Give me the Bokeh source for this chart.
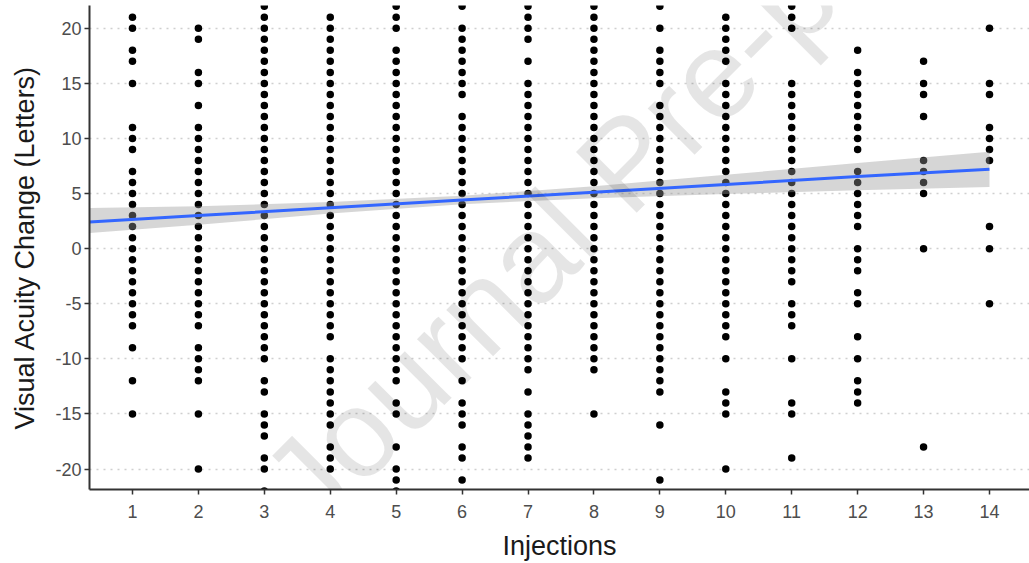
from bokeh.plotting import figure
from bokeh.models import Range1d, Label, FixedTicker
from bokeh.embed import file_html
from bokeh.resources import INLINE

# ---- data ----
injections = list(range(1, 15))

va_1 = [21, 20, 18, 17, 15, 11, 10, 9, 7, 6, 5, 4, 3, 2, 1, 0, -1, -2, -3, -4, -5, -6, -7, -9, -12, -15]
va_2 = [20, 19, 16, 15, 13, 11, 10, 9, 8, 7, 6, 5, 4, 3, 2, 1, 0, -1, -2, -3, -4, -5, -6, -7, -9, -10, -11, -12, -15, -20]
va_3 = [22, 21, 20, 19, 18, 17, 16, 15, 14, 13, 12, 11, 10, 9, 8, 7, 6, 5, 4, 3, 2, 1, 0, -1, -2, -3, -4, -5, -6, -7, -8, -9, -10, -12, -13, -15, -16, -17, -19, -20, -22]
va_4 = [21, 20, 19, 18, 17, 16, 15, 14, 13, 12, 11, 10, 9, 8, 7, 6, 5, 4, 3, 2, 1, 0, -1, -2, -3, -4, -5, -6, -7, -8, -10, -11, -12, -13, -14, -15, -16, -18, -19, -20]
va_5 = [22, 21, 20, 18, 17, 16, 15, 14, 13, 12, 11, 10, 9, 8, 7, 6, 5, 4, 3, 2, 1, 0, -1, -2, -3, -4, -5, -6, -7, -8, -9, -10, -11, -12, -14, -15, -18, -20, -21, -22]
va_6 = [22, 20, 19, 18, 17, 16, 15, 14, 12, 11, 10, 9, 8, 7, 6, 5, 4, 3, 2, 1, 0, -1, -2, -3, -4, -5, -6, -7, -8, -9, -10, -12, -14, -15, -16, -18, -19, -21]
va_7 = [22, 21, 20, 19, 17, 15, 14, 13, 12, 11, 10, 9, 8, 7, 6, 5, 4, 3, 2, 1, 0, -1, -2, -3, -4, -5, -6, -7, -8, -9, -10, -11, -13, -15, -16, -17, -18, -19]
va_8 = [22, 21, 20, 19, 18, 17, 16, 15, 14, 13, 12, 11, 10, 9, 8, 7, 6, 5, 4, 3, 2, 1, 0, -1, -2, -3, -4, -5, -6, -7, -8, -9, -10, -11, -15]
va_9 = [22, 20, 18, 17, 16, 15, 13, 12, 11, 10, 9, 8, 7, 6, 5, 4, 3, 2, 1, 0, -1, -2, -3, -4, -5, -6, -7, -8, -9, -10, -11, -12, -13, -16, -21]
va_10 = [21, 20, 19, 18, 17, 15, 14, 13, 12, 11, 10, 9, 8, 7, 6, 5, 4, 3, 2, 1, 0, -1, -2, -3, -4, -5, -6, -7, -8, -10, -13, -14, -15, -20]
va_11 = [22, 21, 20, 15, 14, 13, 12, 11, 10, 9, 8, 7, 6, 5, 4, 3, 2, 1, 0, -1, -2, -3, -5, -6, -7, -10, -14, -15, -19]
va_12 = [18, 16, 15, 14, 13, 12, 11, 10, 9, 7, 6, 5, 4, 3, 2, 0, -1, -2, -4, -5, -8, -10, -12, -13, -14]
va_13 = [17, 15, 14, 12, 8, 7, 6, 5, 0, -18]
va_14 = [20, 15, 14, 11, 10, 9, 8, 2, 0, -5]

# linear fit with 95% band
fit_x = [0.35, 2, 4, 6, 8, 10, 12, 14]
fit_y = [2.42, 3.0, 3.71, 4.42, 5.12, 5.83, 6.54, 7.2]
band_lower = [1.42, 2.16, 3.18, 4.04, 4.57, 4.96, 5.31, 5.6]
band_upper = [3.69, 3.84, 4.24, 4.8, 5.67, 6.7, 7.77, 8.8]

y_ticks = [-20, -15, -10, -5, 0, 5, 10, 15, 20]

columns = [va_1, va_2, va_3, va_4, va_5, va_6, va_7, va_8, va_9, va_10, va_11, va_12, va_13, va_14]
xs, ys = [], []
for inj, vals in zip(injections, columns):
    for v in vals:
        xs.append(inj)
        ys.append(v)

FONT = "Liberation Sans"

p = figure(width=1029, height=563, output_backend="svg", toolbar_location=None,
           x_range=Range1d(0.348, 14.607), y_range=Range1d(-21.86, 22.07),
           min_border_left=89, min_border_right=0, min_border_top=5, min_border_bottom=73)
p.outline_line_color = None
p.background_fill_color = "white"

p.xgrid.visible = False
p.ygrid.grid_line_color = "#cfcfcf"
p.ygrid.grid_line_dash = "2 5"
p.ygrid.grid_line_width = 1.3

p.scatter(xs, ys, size=7.5, marker="circle", fill_color="black", line_color=None)
p.varea(x=fit_x, y1=band_lower, y2=band_upper, fill_color="#999999", fill_alpha=0.4)
p.line(fit_x, fit_y, line_color="#3366FF", line_width=3)

p.xaxis.ticker = FixedTicker(ticks=injections)
p.yaxis.ticker = FixedTicker(ticks=y_ticks)
p.yaxis.major_label_overrides = {v: str(v) for v in y_ticks}
for ax in (p.xaxis[0], p.yaxis[0]):
    ax.axis_line_color = "#333333"
    ax.axis_line_width = 2
    ax.major_tick_line_color = "#333333"
    ax.major_tick_line_width = 1.5
    ax.major_tick_out = 5
    ax.major_tick_in = 0
    ax.minor_tick_line_color = None
    ax.major_label_text_font = FONT
    ax.major_label_text_font_size = "18px"
    ax.major_label_text_color = "#4d4d4d"
    ax.axis_label_text_font = FONT
    ax.axis_label_text_font_size = "27px"
    ax.axis_label_text_font_style = "normal"
    ax.axis_label_text_color = "#1a1a1a"

p.xaxis.axis_label = "Injections"
p.yaxis.axis_label = "Visual Acuity Change (Letters)"
p.xaxis.major_label_standoff = 10
p.xaxis.axis_label_standoff = 10
p.yaxis.major_label_standoff = 3
p.yaxis.axis_label_standoff = 12

wm = Label(x=4.05, y=-27.6, text="Journal Pre-proof", angle=45, angle_units="deg",
           text_font=FONT, text_font_size="125px", text_color="black", text_alpha=0.1)
p.add_layout(wm)

corner = Label(x=-0.95, y=21.9, text=")", text_font=FONT, text_font_size="28px",
               text_color="#1a1a1a", text_baseline="alphabetic")
p.add_layout(corner)

open("out.html", "w").write(file_html(p, INLINE))
